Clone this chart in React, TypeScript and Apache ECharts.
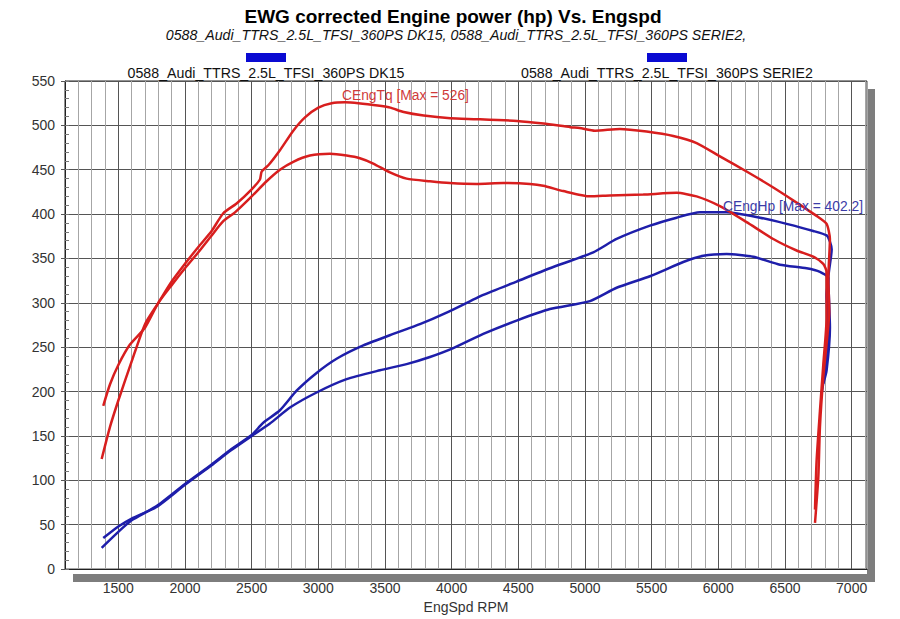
import React, { useEffect, useRef } from "react";
import * as echarts from "echarts";

const TITLE = "EWG corrected Engine power (hp) Vs. Engspd";
const SUBTITLE =
  "0588_Audi_TTRS_2.5L_TFSI_360PS DK15, 0588_Audi_TTRS_2.5L_TFSI_360PS SERIE2,";
const LEGEND_NAMES = [
  "0588_Audi_TTRS_2.5L_TFSI_360PS DK15",
  "0588_Audi_TTRS_2.5L_TFSI_360PS SERIE2",
];
const X_NAME = "EngSpd RPM";
const X_MAJOR_TICKS = [1500, 2000, 2500, 3000, 3500, 4000, 4500, 5000, 5500, 6000, 6500, 7000];
const TQ_LABEL = "CEngTq [Max = 526]";
const HP_LABEL = "CEngHp [Max = 402.2]";

// Run 1 (higher peak) torque
const TQ1_RPM = [1375, 1437, 1500, 1600, 1700, 1800, 1900, 2000, 2100, 2200, 2287, 2387, 2500, 2562, 2575, 2625, 2712, 2812, 2900, 3000, 3100, 3200, 3300, 3460, 3540, 3640, 3790, 3990, 4190, 4490, 4690, 4890, 4960, 5075, 5262, 5462, 5662, 5837, 6012, 6212, 6412, 6587, 6737, 6812, 6837, 6825, 6832, 6812, 6787, 6762, 6750, 6725];
const TQ1_VAL = [124, 160, 190, 234, 276, 300, 324, 344, 363, 381, 401, 412, 428, 439, 448, 455, 472, 494, 509, 520, 525, 526, 525, 522, 520, 515, 511, 508, 507, 505, 502, 498, 497, 494, 496, 493, 488, 480, 465, 448, 430, 413, 398, 389, 372, 328, 290, 254, 216, 160, 104, 52];

// Run 2 torque
const TQ2_RPM = [1387, 1437, 1500, 1587, 1700, 1800, 1900, 2000, 2100, 2200, 2287, 2375, 2487, 2612, 2712, 2812, 2937, 3087, 3212, 3312, 3412, 3537, 3662, 3837, 3987, 4187, 4387, 4587, 4687, 4837, 5037, 5187, 5437, 5687, 5837, 6012, 6212, 6412, 6587, 6712, 6787, 6812, 6812, 6812, 6787, 6762, 6737, 6725];
const TQ2_VAL = [184, 208, 230, 253, 272, 300, 320, 339, 357, 376, 392, 402, 418, 437, 450, 459, 466, 468, 466, 463, 457, 447, 440, 437, 435, 434, 435, 434, 432, 426, 420, 421, 422, 424, 420, 409, 391, 372, 359, 352, 344, 335, 328, 283, 230, 178, 122, 67];

// Run 1 power
const HP1_RPM = [1375, 1500, 1600, 1787, 2000, 2200, 2337, 2500, 2562, 2587, 2712, 2837, 2987, 3137, 3337, 3562, 3762, 3962, 4237, 4487, 4737, 5062, 5237, 5487, 5687, 5862, 6062, 6312, 6512, 6712, 6812, 6837, 6850, 6825, 6837, 6812, 6787];
const HP1_VAL = [24, 42, 55, 71, 96, 118, 134, 151, 161, 165, 179, 201, 221, 237, 252, 265, 276, 289, 309, 324, 339, 357, 372, 387, 396, 402, 402, 396, 389, 381, 376, 369, 360, 328, 272, 224, 209];

// Run 2 power
const HP2_RPM = [1387, 1500, 1600, 1787, 2000, 2200, 2337, 2500, 2637, 2787, 2987, 3212, 3462, 3662, 3837, 4012, 4237, 4487, 4737, 5037, 5237, 5487, 5737, 5887, 6062, 6262, 6462, 6662, 6762, 6825, 6812, 6825, 6800, 6775];
const HP2_VAL = [35, 48, 57, 70, 95, 117, 133, 150, 164, 182, 199, 214, 224, 231, 239, 249, 265, 280, 293, 302, 317, 330, 346, 353, 355, 352, 343, 339, 335, 328, 309, 272, 224, 198];

const RED = "#d81e1e";
const BLUE = "#1e1eaa";
const FONT = "'Liberation Sans', Arial, sans-serif";

const pair = (xs: number[], ys: number[]) => xs.map((x, i) => [x, ys[i]]);

export default function App() {
  const ref = useRef<HTMLDivElement>(null);
  useEffect(() => {
    if (!ref.current) return;
    const chart = echarts.init(ref.current, null, { renderer: "svg" });
    const lineSeries = (name: string, data: number[][], color: string) => ({
      type: "line",
      name,
      data,
      showSymbol: false,
      symbol: "none",
      smooth: 0.2,
      z: 5,
      lineStyle: { color, width: 2.5 },
      silent: true,
    });
    chart.setOption({
      animation: false,
      backgroundColor: "#ffffff",
      textStyle: { fontFamily: FONT },
      grid: {
        left: 65,
        top: 81,
        right: 33,
        bottom: 46,
        show: true,
        borderColor: "#222",
        borderWidth: 1,
        backgroundColor: "#fff",
      },
      xAxis: [
        {
          type: "value",
          min: 1100,
          max: 7115,
          interval: 100,
          axisLine: { show: true, lineStyle: { color: "#222" } },
          axisTick: { show: false },
          axisLabel: {
            color: "#333",
            fontSize: 14,
            fontFamily: FONT,
            margin: 12,
            formatter: (v: number) => (X_MAJOR_TICKS.indexOf(v) >= 0 ? String(v) : ""),
          },
          splitLine: { show: true, lineStyle: { color: "#a6a6a6", width: 1 } },
          name: X_NAME,
          nameLocation: "middle",
          nameGap: 29,
          nameTextStyle: { color: "#333", fontSize: 14, fontFamily: FONT },
        },
      ],
      yAxis: [
        {
          type: "value",
          min: 0,
          max: 550,
          interval: 50,
          axisLine: { show: true, lineStyle: { color: "#222" } },
          axisTick: { show: true, inside: false, length: 4, lineStyle: { color: "#555" } },
          axisLabel: { color: "#333", fontSize: 14, fontFamily: FONT, margin: 10 },
          splitLine: { show: true, lineStyle: { color: "#555", width: 1 } },
        },
        {
          type: "value",
          min: 0,
          max: 550,
          interval: 10,
          position: "left",
          axisLine: { show: false },
          axisTick: { show: true, inside: true, length: 4, lineStyle: { color: "#777" } },
          axisLabel: { show: false },
          splitLine: { show: false },
        },
      ],
      series: [
        {
          type: "line",
          data: [],
          silent: true,
          z: 1,
          markLine: {
            silent: true,
            symbol: ["none", "none"],
            label: { show: false },
            lineStyle: { color: "#555", width: 1, type: "solid" },
            data: X_MAJOR_TICKS.map((v) => ({ xAxis: v })),
          },
        },
        lineSeries("CEngHp run1", pair(HP1_RPM, HP1_VAL), BLUE),
        lineSeries("CEngHp run2", pair(HP2_RPM, HP2_VAL), BLUE),
        lineSeries("CEngTq run1", pair(TQ1_RPM, TQ1_VAL), RED),
        lineSeries("CEngTq run2", pair(TQ2_RPM, TQ2_VAL), RED),
      ],
      graphic: [
        // drop shadow of the plot frame
        { type: "rect", shape: { x: 867, y: 89, width: 8, height: 493 }, style: { fill: "#7d7d7d" }, z: -1 },
        { type: "rect", shape: { x: 73, y: 574, width: 802, height: 8 }, style: { fill: "#7d7d7d" }, z: -1 },
        {
          type: "text",
          x: 453,
          y: 16.5,
          style: { text: TITLE, fill: "#000", font: `bold 19px ${FONT}`, align: "center", verticalAlign: "middle" },
        },
        {
          type: "text",
          x: 456,
          y: 34.5,
          style: { text: SUBTITLE, fill: "#111", font: `italic 14.2px ${FONT}`, align: "center", verticalAlign: "middle" },
        },
        { type: "rect", shape: { x: 246, y: 53, width: 40, height: 9 }, style: { fill: "#0a0ad2" } },
        { type: "rect", shape: { x: 647, y: 53, width: 40, height: 9 }, style: { fill: "#0a0ad2" } },
        {
          type: "text",
          x: 266,
          y: 72.5,
          style: { text: LEGEND_NAMES[0], fill: "#111", font: `14.2px ${FONT}`, align: "center", verticalAlign: "middle" },
        },
        {
          type: "text",
          x: 667,
          y: 72.5,
          style: { text: LEGEND_NAMES[1], fill: "#111", font: `14.2px ${FONT}`, align: "center", verticalAlign: "middle" },
        },
        {
          type: "text",
          x: 342,
          y: 95.5,
          z: 10,
          style: { text: TQ_LABEL, fill: "#d03a3a", font: `13.8px ${FONT}`, align: "left", verticalAlign: "middle" },
        },
        {
          type: "text",
          x: 723,
          y: 206.5,
          z: 10,
          style: { text: HP_LABEL, fill: "#3c3ca8", font: `13.8px ${FONT}`, align: "left", verticalAlign: "middle" },
        },
      ],
    });
    return () => chart.dispose();
  }, []);
  return <div ref={ref} style={{ width: 900, height: 619, position: "absolute", left: 0, top: 0 }} />;
}
